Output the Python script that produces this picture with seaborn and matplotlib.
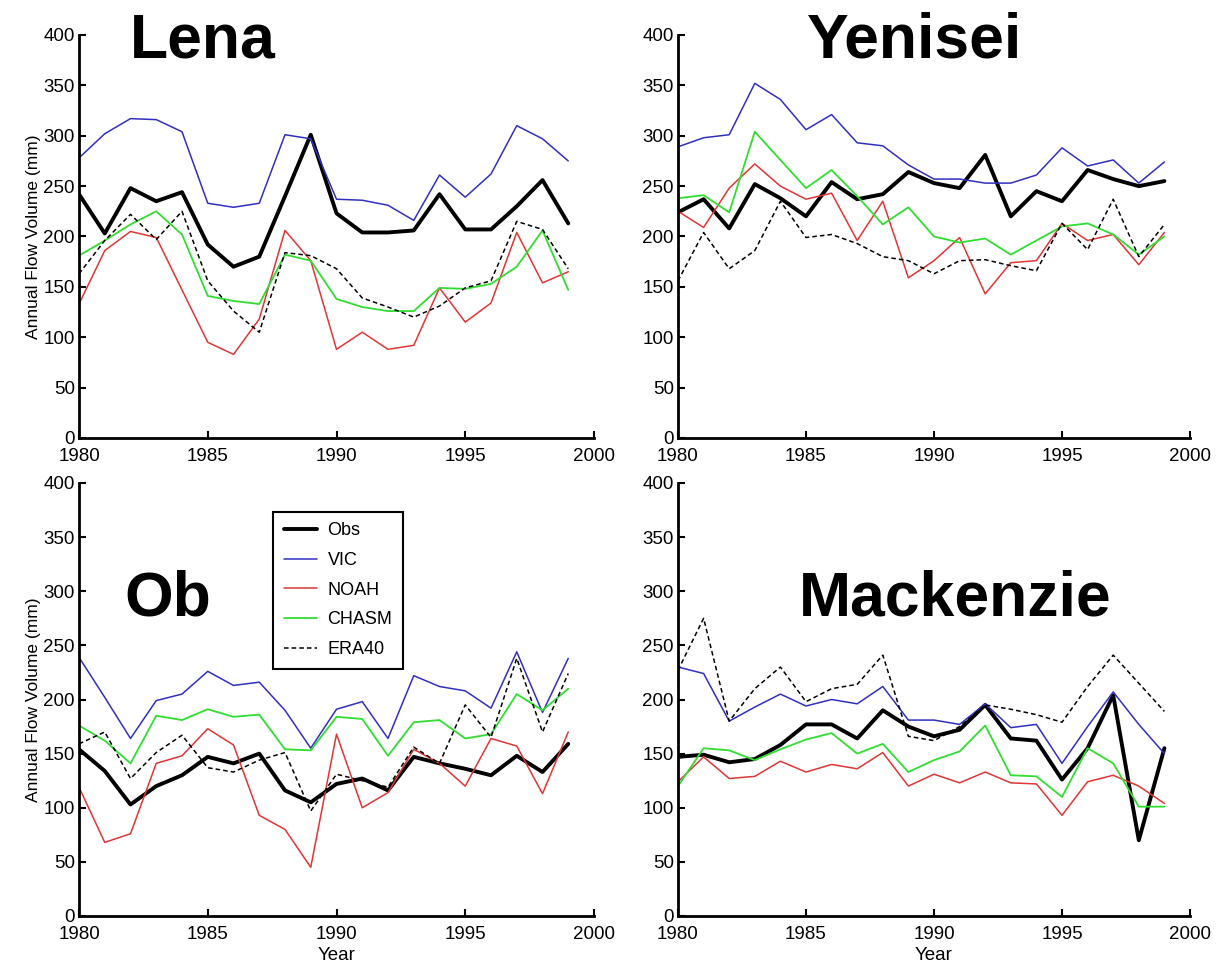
import matplotlib
matplotlib.use('Agg')
import pandas as pd
import matplotlib.pyplot as plt
import seaborn as sns

years = list(range(1980, 2000))
models = ['Obs', 'VIC', 'NOAH', 'CHASM', 'ERA40']

# Lena
lena_obs = [242, 203, 248, 235, 244, 192, 170, 180, 240, 301, 223, 204, 204, 206, 242, 207, 207, 230, 256, 213]
lena_vic = [278, 302, 317, 316, 304, 233, 229, 233, 301, 297, 237, 236, 231, 216, 261, 239, 262, 310, 297, 275]
lena_noah = [133, 186, 205, 199, 147, 95, 83, 118, 206, 176, 88, 105, 88, 92, 149, 115, 134, 204, 154, 165]
lena_chasm = [181, 196, 212, 225, 202, 141, 136, 133, 182, 176, 138, 130, 126, 126, 149, 148, 153, 170, 206, 147]
lena_era40 = [163, 196, 222, 197, 225, 156, 126, 105, 184, 181, 168, 139, 130, 120, 131, 149, 156, 215, 207, 168]

# Yenisei
yenisei_obs = [224, 237, 208, 252, 238, 220, 254, 237, 242, 264, 253, 248, 281, 220, 245, 235, 266, 257, 250, 255]
yenisei_vic = [289, 298, 301, 352, 336, 306, 321, 293, 290, 271, 257, 257, 253, 253, 261, 288, 270, 276, 253, 274]
yenisei_noah = [225, 209, 248, 272, 250, 237, 243, 196, 235, 159, 176, 199, 143, 174, 176, 213, 196, 202, 172, 204]
yenisei_chasm = [238, 241, 224, 304, 276, 248, 266, 240, 212, 229, 200, 194, 198, 182, 196, 210, 213, 202, 182, 200]
yenisei_era40 = [156, 204, 168, 186, 235, 199, 202, 193, 180, 176, 163, 176, 177, 171, 166, 213, 187, 237, 180, 212]

# Ob
ob_obs = [154, 134, 103, 120, 130, 147, 141, 150, 116, 105, 122, 127, 116, 147, 141, 136, 130, 148, 133, 159]
ob_vic = [239, 202, 164, 199, 205, 226, 213, 216, 190, 155, 191, 198, 164, 222, 212, 208, 192, 244, 188, 238]
ob_noah = [119, 68, 76, 141, 148, 173, 158, 93, 80, 45, 168, 100, 114, 154, 141, 120, 164, 157, 113, 170]
ob_chasm = [176, 162, 141, 185, 181, 191, 184, 186, 154, 153, 184, 182, 148, 179, 181, 164, 168, 205, 190, 210]
ob_era40 = [159, 170, 127, 151, 167, 137, 133, 144, 151, 97, 131, 125, 119, 156, 141, 195, 165, 238, 170, 224]

# Mackenzie
mack_obs = [147, 149, 142, 145, 158, 177, 177, 164, 190, 175, 166, 172, 195, 164, 162, 126, 155, 204, 70, 155]
mack_vic = [230, 224, 180, 193, 205, 194, 200, 196, 212, 181, 181, 177, 196, 174, 177, 141, 175, 207, 177, 150]
mack_noah = [124, 147, 127, 129, 143, 133, 140, 136, 151, 120, 131, 123, 133, 123, 122, 93, 124, 130, 120, 104]
mack_chasm = [120, 155, 153, 144, 154, 163, 169, 150, 159, 133, 144, 152, 176, 130, 129, 110, 155, 141, 101, 101]
mack_era40 = [227, 275, 180, 210, 230, 198, 210, 214, 241, 166, 162, 175, 195, 191, 186, 179, 212, 241, 215, 189]

basins = {
    'Lena': [lena_obs, lena_vic, lena_noah, lena_chasm, lena_era40],
    'Yenisei': [yenisei_obs, yenisei_vic, yenisei_noah, yenisei_chasm, yenisei_era40],
    'Ob': [ob_obs, ob_vic, ob_noah, ob_chasm, ob_era40],
    'Mackenzie': [mack_obs, mack_vic, mack_noah, mack_chasm, mack_era40],
}

colors = {'Obs': 'black', 'VIC': '#3030c0', 'NOAH': '#e03535', 'CHASM': '#30dd30', 'ERA40': 'black'}
widths = {'Obs': 2.8, 'VIC': 1.1, 'NOAH': 1.1, 'CHASM': 1.3, 'ERA40': 1.1}

sns.set_style('ticks')
plt.rcParams['font.family'] = ['Liberation Sans', 'DejaVu Sans']
for key in ['text.color', 'axes.labelcolor', 'xtick.color', 'ytick.color', 'axes.edgecolor']:
    plt.rcParams[key] = 'black'

fig = plt.figure(figsize=(12.16, 9.74), dpi=100)

W, H = 1216, 974
positions = {
    'Lena': (79, 35, 594, 438),
    'Yenisei': (678, 35, 1190, 438),
    'Ob': (79, 483, 594, 916),
    'Mackenzie': (678, 483, 1190, 916),
}
titles = {'Lena': (203, 58), 'Yenisei': (915, 58), 'Ob': (168, 615), 'Mackenzie': (955, 615)}

for name, series in basins.items():
    x0, y0, x1, y1 = positions[name]
    ax = fig.add_axes([x0 / W, (H - y1) / H, (x1 - x0) / W, (y1 - y0) / H])
    df = pd.DataFrame({'Year': years * 5,
                       'flow': sum(series, []),
                       'model': [m for m in models for _ in years]})
    for m in models:
        sub = df[df['model'] == m]
        sns.lineplot(x='Year', y='flow', data=sub, ax=ax, color=colors[m],
                     lw=widths[m], label=m, linestyle='--' if m == 'ERA40' else '-')
        if m == 'ERA40':
            ax.lines[-1].set_dashes((3, 2))
    ax.set_xlim(1980, 2000)
    ax.set_ylim(0, 400)
    ax.set_xticks([1980, 1985, 1990, 1995, 2000])
    ax.set_yticks(range(0, 401, 50))
    ax.tick_params(direction='in', length=5, width=1.5, labelsize=13.5, pad=3)
    ax.tick_params(axis='x', pad=7)
    for s in ['left', 'bottom']:
        ax.spines[s].set_linewidth(2)
    sns.despine(ax=ax)
    if name in ('Lena', 'Ob'):
        ax.set_ylabel('Annual Flow Volume (mm)', fontsize=12.5, labelpad=2)
    else:
        ax.set_ylabel('')
    if name in ('Ob', 'Mackenzie'):
        ax.set_xlabel('Year', fontsize=13.5, labelpad=3)
    else:
        ax.set_xlabel('')
    if name == 'Ob':
        leg = ax.legend(loc='upper left', bbox_to_anchor=(0.36, 0.955), fontsize=13,
                        frameon=True, fancybox=False, handlelength=1.8,
                        labelspacing=0.7, borderpad=0.6, handletextpad=0.6)
        leg.get_frame().set_edgecolor('black')
        leg.get_frame().set_linewidth(1.5)
        leg.get_frame().set_alpha(1)
    else:
        ax.get_legend().remove()
    tx, ty = titles[name]
    fig.text(tx / W, (H - ty) / H, name, fontsize=45, fontweight='bold',
             ha='center', va='baseline')

fig.savefig('out.png', dpi=100)
